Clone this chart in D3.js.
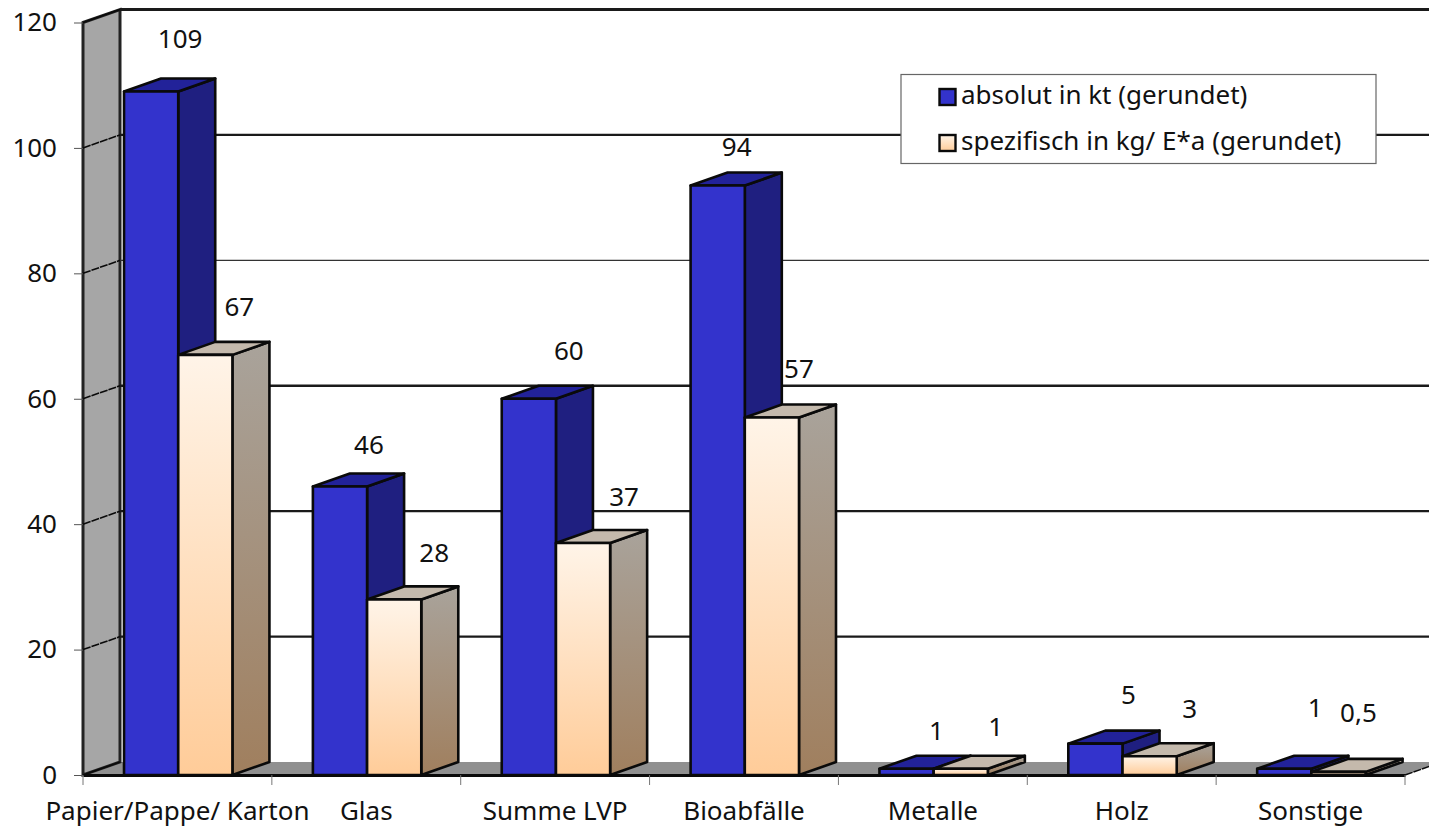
<!DOCTYPE html>
<html lang="de">
<head>
<meta charset="utf-8">
<title>Abfallmengen</title>
<script src="https://cdnjs.cloudflare.com/ajax/libs/d3/7.8.5/d3.min.js"></script>
<style>
html,body{margin:0;padding:0;background:#fff;overflow:hidden}
text{font-family:"Noto Sans","Open Sans",sans-serif;fill:#111}
</style>
</head>
<body>
<svg id="chart" width="1429" height="828"></svg>
<script>
// Waste fractions and their two series
const categories = ["Papier/Pappe/ Karton","Glas","Summe LVP","Bioabfälle","Metalle","Holz","Sonstige"];
const absolut = [109,46,60,94,1,5,1];
const spezifisch = [67,28,37,57,1,3,0.5];
const yTicks = [0,20,40,60,80,100,120];
const seriesNames = ["absolut in kt (gerundet)","spezifisch in kg/ E*a (gerundet)"];

// Hand-placed data labels: offset from the centre of the bar's top edge
const absLabelShift = [[29,-53],[29,-43],[40,-49],[19,-40],[30,-39],[33,-50],[31,-62]];
const speLabelShift = [[34,-49],[40,-47],[41,-47],[27,-50],[35,-43],[40,-48],[20,-60]];

const svg = d3.select("#chart");
const FONT = 26;
const plot = {left:83, right:1405, top:22.5, bottom:775};
const depth = {x:37, y:-13};
const barW = 54.2;

const x = d3.scaleBand().domain(categories).range([plot.left, plot.right]);
const y = d3.scaleLinear().domain([0,120]).range([plot.bottom, plot.top]);
const fmt = d3.formatLocale({decimal:",",thousands:".",grouping:[3],currency:["","€"]}).format("~g");

const defs = svg.append("defs");
function gradient(id, top, bottom){
  const g = defs.append("linearGradient").attr("id",id).attr("x1",0).attr("x2",0).attr("y1",0).attr("y2",1);
  g.append("stop").attr("offset",0).attr("stop-color",top);
  g.append("stop").attr("offset",1).attr("stop-color",bottom);
}
gradient("peachFront","#fff4e8","#ffcc99");
gradient("peachSide","#a9a39b","#a07f5e");

const poly = pts => pts.map(p => p.join(",")).join(" ");
const ink = "#0a0a0a";

// Floor, side wall and back wall
svg.append("polygon").attr("fill","#909090")
  .attr("points",poly([[plot.left,plot.bottom],[plot.left+depth.x,plot.bottom+depth.y],[plot.right+depth.x,plot.bottom+depth.y],[plot.right,plot.bottom]]));
svg.append("line")
  .attr("x1",plot.right).attr("x2",plot.right+depth.x)
  .attr("y1",plot.bottom).attr("y2",plot.bottom+depth.y)
  .attr("stroke",ink).attr("stroke-width",1.5).attr("stroke-dasharray","8 1");
svg.append("polygon").attr("fill","#a6a6a6").attr("stroke","#222").attr("stroke-width",3)
  .attr("points",poly([[plot.left,plot.top],[plot.left+depth.x,plot.top+depth.y],[plot.left+depth.x,plot.bottom+depth.y],[plot.left,plot.bottom]]));

// Gridlines across the side wall and the back wall
const grid = svg.append("g").attr("class","grid");
yTicks.forEach(t => {
  if (t > 0) grid.append("line")
    .attr("x1",plot.left+depth.x).attr("x2",1429+depth.x)
    .attr("y1",y(t)+depth.y).attr("y2",y(t)+depth.y)
    .attr("stroke",t===80?"#333":"#1a1a1a").attr("stroke-width",t===120?3.2:(t===80?1.3:2.4));
  grid.append("line")
    .attr("x1",plot.left).attr("x2",plot.left+depth.x)
    .attr("y1",y(t)).attr("y2",y(t)+depth.y)
    .attr("stroke",ink).attr("stroke-width",1.6).attr("stroke-dasharray",t===0||t===120?null:"8 1");
});

// Axes
const yAxis = d3.axisLeft(y).tickValues(yTicks).tickSize(9).tickPadding(17);
const xAxis = d3.axisBottom(x).tickSize(0).tickPadding(27);
svg.append("g").attr("transform",`translate(${plot.left},0)`).call(yAxis)
  .call(g => g.select(".domain").remove())
  .call(g => g.selectAll("line").attr("stroke","#555").attr("stroke-width",1))
  .call(g => g.selectAll("text").attr("font-size",FONT).style("fill","#111"));
svg.append("g").attr("transform",`translate(0,${plot.bottom})`).call(xAxis)
  .call(g => g.select(".domain").attr("stroke",ink).attr("stroke-width",3))
  .call(g => g.selectAll("text").attr("font-size",FONT).style("fill","#111"));
svg.append("g").selectAll("line")
  .data(d3.range(categories.length+1))
  .join("line")
  .attr("x1",i => plot.left + i*x.step()).attr("x2",i => plot.left + i*x.step())
  .attr("y1",plot.bottom).attr("y2",plot.bottom+10)
  .attr("stroke","#777").attr("stroke-width",1);

// One 3D bar: side face, top face, then front face
function drawBar(g, x0, value, colors){
  const yTop = y(value), yBase = y(0), x1 = x0 + barW;
  const face = (pts, fill) => g.append("polygon").attr("points",poly(pts)).attr("fill",fill)
    .attr("stroke",ink).attr("stroke-width",2.6).attr("stroke-linejoin","round");
  face([[x1,yTop],[x1+depth.x,yTop+depth.y],[x1+depth.x,yBase+depth.y],[x1,yBase]], colors.side);
  face([[x0,yTop],[x0+depth.x,yTop+depth.y],[x1+depth.x,yTop+depth.y],[x1,yTop]], colors.top);
  face([[x0,yTop],[x1,yTop],[x1,yBase],[x0,yBase]], colors.front);
}

const blue = {front:"#3333cc",side:"#1f1f80",top:"#222299"};
const peach = {front:"url(#peachFront)",side:"url(#peachSide)",top:"#c4b9ac"};
const barsLayer = svg.append("g").attr("class","bars");
const labels = [];
categories.forEach((c,i) => {
  const x0 = x(c) + (x.step() - 2*barW)/2 + 0.8;
  drawBar(barsLayer, x0, absolut[i], blue);
  drawBar(barsLayer, x0 + barW, spezifisch[i], peach);
  labels.push({v:absolut[i], x:x0+barW/2+absLabelShift[i][0], y:y(absolut[i])+absLabelShift[i][1]});
  labels.push({v:spezifisch[i], x:x0+1.5*barW+speLabelShift[i][0], y:y(spezifisch[i])+speLabelShift[i][1]});
});

// Value labels
svg.append("g").selectAll("text").data(labels).join("text")
  .attr("x",d => d.x).attr("y",d => d.y)
  .attr("text-anchor","middle").attr("dominant-baseline","central")
  .attr("font-size",FONT).text(d => fmt(d.v));

// Legend box
const legend = svg.append("g");
legend.append("rect").attr("x",901).attr("y",74.5).attr("width",475).attr("height",89)
  .attr("fill","#fff").attr("stroke","#666").attr("stroke-width",1.2);
seriesNames.forEach((name,i) => {
  const ly = 97 + i*46;
  legend.append("rect").attr("x",939.5).attr("y",ly-8).attr("width",16).attr("height",16)
    .attr("fill",i===0?"#3333cc":"url(#peachFront)").attr("stroke",ink).attr("stroke-width",2.4);
  legend.append("text").attr("x",961).attr("y",ly-3).attr("dominant-baseline","central")
    .attr("font-size",FONT).text(name);
});
</script>
</body>
</html>
